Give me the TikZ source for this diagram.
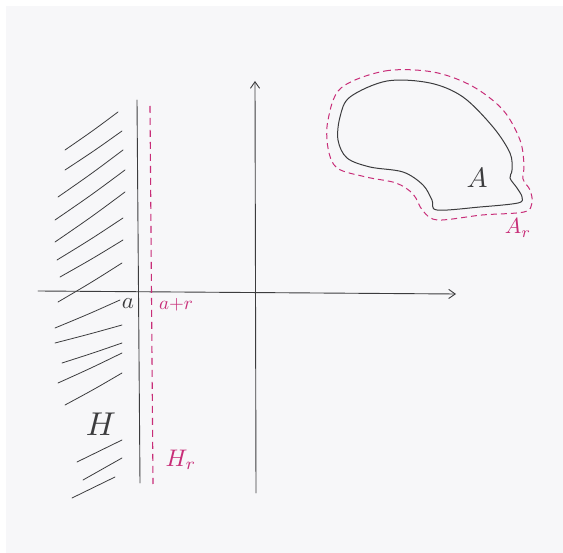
\documentclass[tikz,border=0pt]{standalone}
\usetikzlibrary{arrows.meta}
\definecolor{pencil}{RGB}{60,60,62}
\definecolor{pink}{RGB}{200,45,120}
\definecolor{paper}{RGB}{247,247,249}
\begin{document}
\begin{tikzpicture}[x=1pt,y=-1pt,
  pen/.style={draw=pencil,line width=0.9pt,line cap=round},
  hatch/.style={draw=pencil,line width=0.8pt,line cap=round},
  pinkdash/.style={draw=pink,line width=1.1pt,dash pattern=on 7pt off 5pt},
  axis/.style={pen,-{Straight Barb[angle=70:8pt,line width=0.9pt]}},
  lbl/.style={inner sep=0pt,text=pencil},
  plbl/.style={inner sep=0pt,text=pink}]
\useasboundingbox (0,0) rectangle (563,553);
\fill[paper] (6,6) rectangle (563,553);
% axes
\coordinate (xl) at (38,291);
\coordinate (xr) at (456,294);
\coordinate (yb) at (256,493);
\coordinate (yt) at (255,81);
\draw[axis] (xl) -- (xr);
\draw[axis] (yb) -- (yt);
% boundary of H
\coordinate (ht) at (137,100);
\coordinate (hb) at (140,483);
\draw[pen] (ht) -- (hb);
% dashed H_r boundary
\coordinate (rt) at (150,106);
\coordinate (rb) at (153,484);
\draw[pinkdash] (rt) -- (rb);
% hatching
\foreach \a/\b/\c/\d in {65/150/118/112, 65/170/122/131, 58/197/123/150, 55/220/125/170,
  55/242/125/192, 57/260/123/218, 60/277/123/240, 58/302/122/263,
  55/328/120/300, 55/343/122/325, 62/363/122/343, 58/383/122/353, 65/405/122/373,
  77/462/122/440, 83/480/122/458, 72/498/115/477}
  \draw[hatch] (\a,\b) .. controls ({\a+0.52*(\c-\a)},{\b+0.5*(\d-\b)}) .. (\c,\d);
% labels
\node[lbl,scale=2.3] (la) at (128,304) {$a$};
\node[plbl,scale=1.9] (lar) at (176,305) {$a{+}r$};
\node[lbl,scale=3.3] (lH) at (101,424) {$H$};
\node[plbl,scale=2.4] (lHr) at (181,460) {$H_r$};
% set A
\draw[pen,line width=1pt] plot[smooth cycle,tension=0.55] coordinates {
  (350,97) (387,81) (430,83) (463,97) (493,127) (510,153) (512,170) (510,178)
  (517,188) (522,197) (518,203) (480,207) (437,210) (432,200) (423,185)
  (403,172) (370,167) (347,158) (338,140) (340,117)};
\draw[pinkdash,line width=1pt,dash pattern=on 6pt off 4pt] plot[smooth cycle,tension=0.55] coordinates {
  (341,88) (385,71) (433,72) (472,86) (503,110) (520,140) (524,165) (523,179)
  (530,190) (532,203) (524,212) (482,215) (438,220) (423,211) (413,194)
  (396,183) (366,177) (337,168) (328,148) (328,120)};
\node[lbl,scale=2.8] (lA) at (477,178) {$A$};
\node[plbl,scale=2.2] (lAr) at (518,228) {$A_r$};
\end{tikzpicture}
\end{document}
